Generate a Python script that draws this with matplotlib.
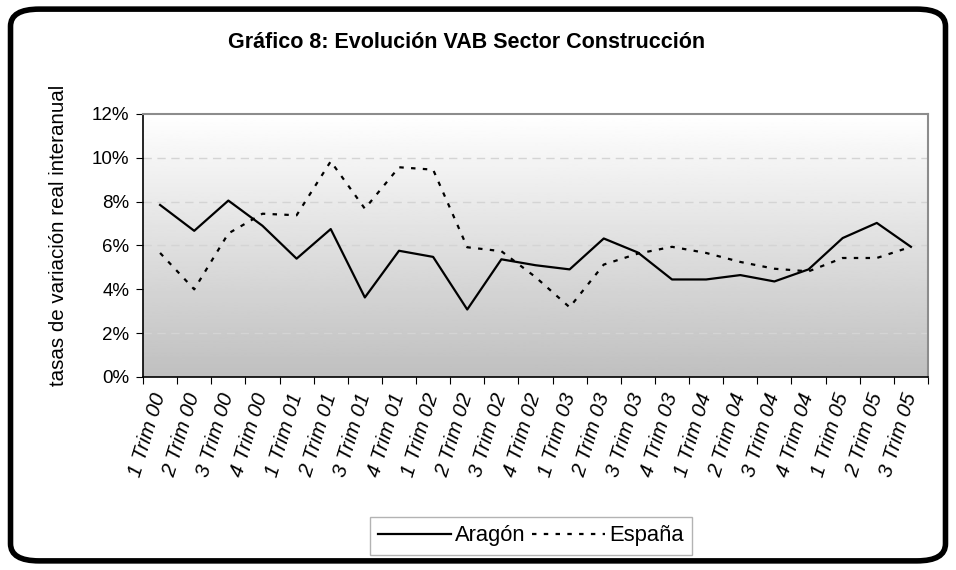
import matplotlib.pyplot as plt
import numpy as np
from matplotlib.patches import FancyBboxPatch
from matplotlib.ticker import FuncFormatter

plt.rcParams['font.family'] = ['Liberation Sans', 'DejaVu Sans']

# datos (tasas de variación real interanual, %)
trimestres = ['1 Trim 00', '2 Trim 00', '3 Trim 00', '4 Trim 00',
              '1 Trim 01', '2 Trim 01', '3 Trim 01', '4 Trim 01',
              '1 Trim 02', '2 Trim 02', '3 Trim 02', '4 Trim 02',
              '1 Trim 03', '2 Trim 03', '3 Trim 03', '4 Trim 03',
              '1 Trim 04', '2 Trim 04', '3 Trim 04', '4 Trim 04',
              '1 Trim 05', '2 Trim 05', '3 Trim 05']
aragon = [7.85, 6.67, 8.05, 6.9, 5.4, 6.75, 3.63, 5.76, 5.48, 3.08, 5.37,
          5.1, 4.91, 6.32, 5.68, 4.45, 4.45, 4.65, 4.36, 4.91, 6.34, 7.03, 5.94]
espana = [5.66, 4.0, 6.55, 7.45, 7.38, 9.84, 7.68, 9.57, 9.46, 5.92, 5.74,
          4.56, 3.18, 5.13, 5.63, 5.94, 5.66, 5.25, 4.94, 4.82, 5.43, 5.43, 5.94]

fig = plt.figure(figsize=(9.56, 5.70), dpi=100)

# marco redondeado
frame = FancyBboxPatch((0.011, 0.016), 0.978, 0.968,
                       boxstyle='round,pad=0,rounding_size=0.03',
                       transform=fig.transFigure, facecolor='white',
                       edgecolor='black', linewidth=4, zorder=-10)
fig.patches.append(frame)

ax = fig.add_axes([0.1496, 0.3386, 0.8211, 0.4614])
x = np.arange(len(trimestres))

# fondo degradado (blanco arriba, gris abajo)
grad = np.linspace(0.75, 1.0, 256).reshape(-1, 1)
ax.imshow(grad, cmap='gray', vmin=0, vmax=1, aspect='auto', origin='lower',
          extent=(-0.5, len(x) - 0.5, 0, 12), zorder=0)

for yv in [2, 4, 6, 8, 10]:
    ax.axhline(yv, color='#d4d4d4', linestyle=(0, (6, 4)), linewidth=1, zorder=1)

ax.plot(x, aragon, color='black', linewidth=1.6, label='Aragón', zorder=3)
ax.plot(x, espana, color='black', linewidth=1.6, linestyle=(0, (2, 3.3)),
        label='España', zorder=3)

ax.set_xlim(-0.5, len(x) - 0.5)
ax.set_ylim(0, 12)
ax.set_yticks(np.arange(0, 13, 2))
ax.yaxis.set_major_formatter(FuncFormatter(lambda v, p: f'{v:.0f}%'))
ax.tick_params(axis='y', labelsize=13.5, length=5, direction='out', color='black',
               pad=5)

ax.set_xticks(np.arange(-0.5, len(x), 1))
ax.set_xticklabels([])
ax.set_xticks(x, minor=True)
ax.set_xticklabels(trimestres, minor=True, rotation=73, fontsize=15,
                   fontstyle='italic', ha='right', va='center',
                   rotation_mode='anchor')
ax.tick_params(axis='x', which='major', length=5, color='black')
ax.tick_params(axis='x', which='minor', length=0, pad=12)

for s in ['top', 'right']:
    ax.spines[s].set_color('#8c8c8c')
    ax.spines[s].set_linewidth(1.5)
for s in ['left', 'bottom']:
    ax.spines[s].set_color('black')
    ax.spines[s].set_linewidth(1.2)

ax.set_ylabel('tasas de variación real interanual', fontsize=14.8)
ax.yaxis.set_label_coords(-0.096, 0.54)

fig.text(467 / 956, 1 - 42 / 570, 'Gráfico 8: Evolución VAB Sector Construcción',
         ha='center', va='center', fontsize=15.5, fontweight='bold')

leg = fig.legend(loc='center', bbox_to_anchor=(531 / 956, 1 - 536 / 570), ncol=2,
                 fontsize=15.8, frameon=True, fancybox=False, handlelength=3.3,
                 columnspacing=0.3, handletextpad=0.2, borderpad=0.4)
leg.get_frame().set_edgecolor('#a0a0a0')
leg.get_frame().set_linewidth(1)

fig.savefig('out.png', dpi=100)
